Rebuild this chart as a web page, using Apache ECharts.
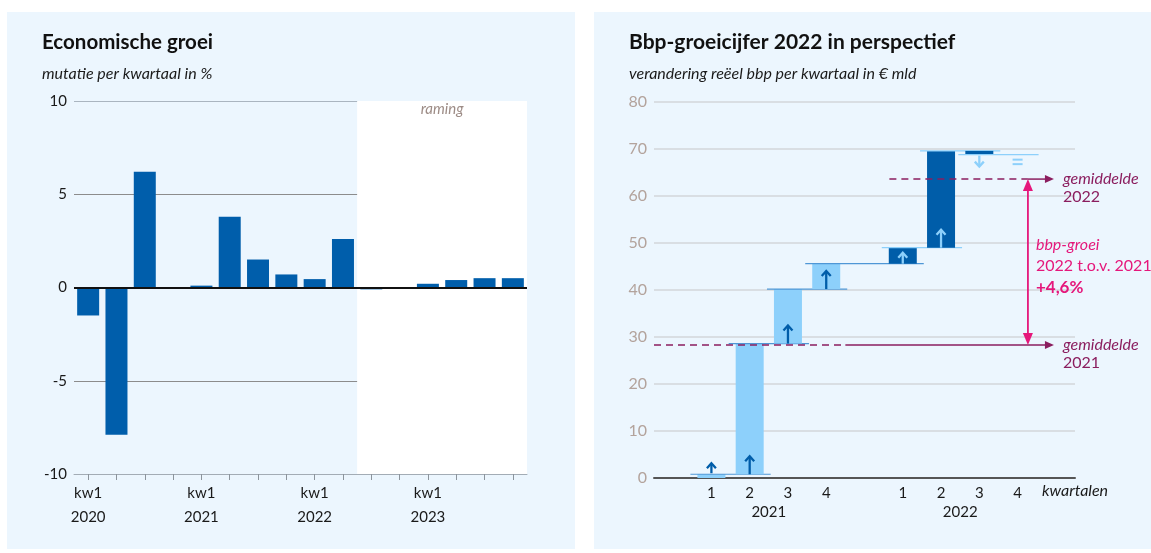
<!DOCTYPE html>
<html>
<head>
<meta charset="utf-8">
<script src="https://cdn.jsdelivr.net/npm/echarts@6/dist/echarts.min.js"></script>
<style>
html, body { margin: 0; padding: 0; background: #fff; }
#chartBox { width: 1151px; height: 553px; }
</style>
</head>
<body>
<div id="chartBox"></div>
<script>
// links: economische groei, mutatie per kwartaal in %
const groeiKwartalen = [
  '2020 kw1', '2020 kw2', '2020 kw3', '2020 kw4',
  '2021 kw1', '2021 kw2', '2021 kw3', '2021 kw4',
  '2022 kw1', '2022 kw2', '2022 kw3', '2022 kw4',
  '2023 kw1', '2023 kw2', '2023 kw3', '2023 kw4'
]
const groeiWaarden = [-1.5, -7.9, 6.2, 0, 0.1, 3.8, 1.5, 0.7, 0.45, 2.6, -0.1, 0, 0.2, 0.4, 0.5, 0.5]
const ramingVanaf = 10 // eerste kwartaal van de raming (2022 kw3)

// rechts: bbp-niveau per kwartaal (€ mld), waterval
const kwartaalLabels = ['', '1', '2', '3', '4', '', '1', '2', '3', '4', '']
const jaarLabels = ['2021', '2022']
const bbpNiveau2021 = [0.8, 28.6, 40.2, 45.6]
const bbpNiveau2022 = [49.0, 69.6, 68.8, 68.8]
const gemiddelden = [28.3, 63.6]
const bbpGroei = '+4,6%'

const LICHTBLAUW = '#8dd0fb'
const DONKERBLAUW = '#005da9'
const MIDDENBLAUW = '#4f97d6'
const PAARS = '#8b1e5f'
const ROZE = '#e5177b'
const FONT = 'Lato'

// waterval-stappen opbouwen: [slot, van, naar, jaar, volgende slot]
const slots = kwartaalLabels.map((l, i) => (l ? i : -1)).filter(i => i >= 0)
const niveaus = bbpNiveau2021.concat(bbpNiveau2022)
const stappen = []
let vorige = 0
niveaus.forEach((n, i) => {
  stappen.push([slots[i], vorige, n, i < bbpNiveau2021.length ? 0 : 1, i + 1 < slots.length ? slots[i + 1] : -1])
  vorige = n
})

function pijl(x, y0, y1, kleur) {
  const s = y1 < y0 ? 1 : -1
  return {
    type: 'group',
    children: [
      { type: 'line', shape: { x1: x, y1: y0, x2: x, y2: y1 + s * 0.5 }, style: { stroke: kleur, lineWidth: 2.3 } },
      {
        type: 'polyline',
        shape: { points: [[x - 4.5, y1 + s * 5], [x, y1], [x + 4.5, y1 + s * 5]] },
        style: { stroke: kleur, lineWidth: 2.3, fill: null }
      }
    ]
  }
}

function tekenStap(params, api) {
  const slot = api.value(0)
  const van = api.value(1)
  const naar = api.value(2)
  const jaar = api.value(3)
  const volgende = api.value(4)
  const breedte = 28
  const pVan = api.coord([slot + 0.5, van])
  const pNaar = api.coord([slot + 0.5, naar])
  const x = pVan[0]
  const links = x - breedte / 2
  const boven = Math.min(pVan[1], pNaar[1])
  const hoogte = Math.abs(pVan[1] - pNaar[1])
  const balkKleur = jaar === 0 ? LICHTBLAUW : DONKERBLAUW
  const pijlKleur = jaar === 0 ? DONKERBLAUW : LICHTBLAUW
  const lijnKleur = jaar === 0 ? MIDDENBLAUW : LICHTBLAUW
  const kids = []
  if (hoogte > 0.5) {
    kids.push({ type: 'rect', shape: { x: links, y: boven, width: breedte, height: hoogte }, style: { fill: balkKleur } })
  }
  if (volgende >= 0) {
    const xEind = api.coord([volgende + 0.5, naar])[0] + breedte / 2 + 7
    kids.push({
      type: 'line',
      shape: { x1: links - 7, y1: pNaar[1], x2: xEind, y2: pNaar[1] },
      style: { stroke: lijnKleur, lineWidth: 1.2 }
    })
  }
  if (naar > van) {
    if (hoogte >= 12) {
      kids.push(pijl(x, pVan[1], pVan[1] - Math.min(18, hoogte - 5), pijlKleur))
    } else {
      kids.push(pijl(x, boven - 1, boven - 11, pijlKleur))
    }
  } else if (naar < van) {
    if (hoogte >= 12) {
      kids.push(pijl(x, pVan[1], pVan[1] + Math.min(18, hoogte - 5), pijlKleur))
    } else {
      kids.push(pijl(x, pNaar[1] + 1, pNaar[1] + 12, pijlKleur))
    }
  } else {
    kids.push({ type: 'line', shape: { x1: x - 5, y1: pNaar[1] + 5, x2: x + 5, y2: pNaar[1] + 5 }, style: { stroke: pijlKleur, lineWidth: 2 } })
    kids.push({ type: 'line', shape: { x1: x - 5, y1: pNaar[1] + 9.5, x2: x + 5, y2: pNaar[1] + 9.5 }, style: { stroke: pijlKleur, lineWidth: 2 } })
  }
  return { type: 'group', children: kids }
}

// gemiddelde-lijnen: gestreept deel, doorgetrokken deel met pijlpunt
const gemStreep = [[0, 5.0], [6.15, 9.77]]
const gemPunt = 10.45

function tekenGemiddelde(params, api) {
  const niveau = api.value(0)
  const j = api.value(1)
  const a = api.coord([gemStreep[j][0], niveau])
  const b = api.coord([gemStreep[j][1], niveau])
  const c = api.coord([gemPunt, niveau])
  return {
    type: 'group',
    children: [
      { type: 'line', shape: { x1: a[0], y1: a[1], x2: b[0], y2: b[1] }, style: { stroke: PAARS, lineWidth: 1.5, lineDash: [7, 5] } },
      { type: 'line', shape: { x1: b[0], y1: b[1], x2: c[0] - 6, y2: c[1] }, style: { stroke: PAARS, lineWidth: 1.5 } },
      { type: 'polygon', shape: { points: [[c[0], c[1]], [c[0] - 9, c[1] - 4], [c[0] - 9, c[1] + 4]] }, style: { fill: PAARS } },
      {
        type: 'text',
        style: {
          text: '{i|gemiddelde}\n{n|' + jaarLabels[j] + '}',
          x: c[0] + 9, y: c[1] - 9,
          verticalAlign: 'top', align: 'left',
          rich: {
            i: { fontSize: 16, fontStyle: 'italic', fontFamily: FONT, fill: PAARS, lineHeight: 18 },
            n: { fontSize: 16, fontFamily: FONT, fill: PAARS, lineHeight: 18 }
          }
        }
      }
    ]
  }
}

function tekenVerschil(params, api) {
  const boven = api.coord([gemStreep[1][1], api.value(1)])
  const onder = api.coord([gemStreep[1][1], api.value(0)])
  const x = boven[0]
  const tx = x + 8
  const tekst = (t, dy, extra) => ({
    type: 'text',
    style: Object.assign({
      text: t, x: tx, y: boven[1] + dy, verticalAlign: 'middle', align: 'left',
      fontSize: 16, fontFamily: FONT, fill: ROZE
    }, extra)
  })
  return {
    type: 'group',
    children: [
      { type: 'line', shape: { x1: x, y1: boven[1] + 8, x2: x, y2: onder[1] - 8 }, style: { stroke: ROZE, lineWidth: 1.8 } },
      { type: 'polygon', shape: { points: [[x, boven[1]], [x - 5, boven[1] + 12], [x + 5, boven[1] + 12]] }, style: { fill: ROZE } },
      { type: 'polygon', shape: { points: [[x, onder[1]], [x - 5, onder[1] - 12], [x + 5, onder[1] - 12]] }, style: { fill: ROZE } },
      tekst('bbp-groei', 66, { fontStyle: 'italic' }),
      tekst(jaarLabels[1] + ' t.o.v. ' + jaarLabels[0], 87, {}),
      tekst(bbpGroei, 108, { fontWeight: 'bold', fontSize: 17 })
    ]
  }
}

let myChart = echarts.init(document.getElementById('chartBox'))
myChart.setOption({
  animation: false,
  textStyle: { fontFamily: FONT },
  graphic: [
    { type: 'rect', z: -100, shape: { x: 7, y: 12, width: 568, height: 537 }, style: { fill: '#ecf6fe' } },
    { type: 'rect', z: -100, shape: { x: 594, y: 12, width: 560, height: 537 }, style: { fill: '#ecf6fe' } },
    {
      type: 'text', left: 1042, top: 483,
      style: { text: 'kwartalen', fontSize: 16, fontStyle: 'italic', fontFamily: FONT, fill: '#1a1a1a' }
    }
  ],
  title: [
    { text: 'Economische groei', left: 42, top: 32, padding: 0, textStyle: { fontSize: 20.5, fontWeight: 'bold', color: '#111', fontFamily: FONT } },
    { text: 'mutatie per kwartaal in %', left: 42, top: 66, padding: 0, textStyle: { fontSize: 16, fontWeight: 'normal', fontStyle: 'italic', color: '#1a1a1a', fontFamily: FONT } },
    { text: 'Bbp-groeicijfer 2022 in perspectief', left: 629, top: 32, padding: 0, textStyle: { fontSize: 21, fontWeight: 'bold', color: '#111', fontFamily: FONT } },
    { text: 'verandering reëel bbp per kwartaal in € mld', left: 629, top: 66, padding: 0, textStyle: { fontSize: 16, fontWeight: 'normal', fontStyle: 'italic', color: '#1a1a1a', fontFamily: FONT } }
  ],
  grid: [
    { left: 74, top: 101, width: 453, height: 373 },
    { left: 654, top: 102, width: 421, height: 376 }
  ],
  xAxis: [
    {
      gridIndex: 0,
      type: 'category',
      data: groeiKwartalen,
      position: 'bottom',
      axisLine: { onZero: false, lineStyle: { color: '#a3acb5', width: 1 } },
      axisTick: { show: true, alignWithLabel: true, interval: 0, length: 6, lineStyle: { color: '#8c949c', width: 1 } },
      axisLabel: {
        interval: 0,
        margin: 7,
        color: '#1a1a1a',
        fontSize: 15,
        lineHeight: 24,
        fontFamily: FONT,
        formatter: (v, i) => (i % 4 === 0 ? 'kw1\n' + v.slice(0, 4) : '')
      }
    },
    { gridIndex: 0, type: 'value', min: 0, max: groeiKwartalen.length, show: false },
    {
      gridIndex: 1,
      type: 'category',
      data: kwartaalLabels,
      position: 'bottom',
      axisLine: { onZero: false, lineStyle: { color: '#555', width: 2 } },
      axisTick: { alignWithLabel: true, interval: (i, v) => v !== '', length: 5, lineStyle: { color: '#555' } },
      axisLabel: { interval: 0, margin: 8, color: '#1a1a1a', fontSize: 15, fontFamily: FONT }
    },
    {
      gridIndex: 1,
      type: 'value',
      min: 0,
      max: kwartaalLabels.length,
      interval: 1,
      position: 'bottom',
      axisLine: { show: false },
      axisTick: { show: false },
      splitLine: { show: false },
      axisLabel: {
        margin: 27,
        color: '#1a1a1a',
        fontSize: 15,
        fontFamily: FONT,
        formatter: v => (v === 3 ? jaarLabels[0] : v === 8 ? jaarLabels[1] : '')
      }
    }
  ],
  yAxis: [
    {
      gridIndex: 0,
      type: 'value',
      min: -10,
      max: 10,
      interval: 5,
      axisLine: { show: false },
      axisTick: { show: false },
      axisLabel: { margin: 7, color: '#1a1a1a', fontSize: 15, fontFamily: FONT },
      splitLine: { lineStyle: { color: ['#a3acb5', '#8c8c8c', '#8c8c8c', '#8c8c8c', '#aab5c0'] } }
    },
    {
      gridIndex: 1,
      type: 'value',
      min: 0,
      max: 80,
      interval: 10,
      axisLine: { show: false },
      axisTick: { show: false },
      axisLabel: { margin: 7, color: '#b3a39c', fontSize: 16, fontFamily: FONT },
      splitLine: { lineStyle: { color: '#d3d6da', width: 1.5 } }
    }
  ],
  series: [
    {
      name: 'raming',
      type: 'line',
      xAxisIndex: 1,
      yAxisIndex: 0,
      data: [],
      z: -1,
      silent: true,
      markArea: {
        silent: true,
        itemStyle: { color: '#ffffff' },
        label: {
          show: true,
          position: 'insideTop',
          distance: 1,
          formatter: 'raming',
          color: '#9d8c86',
          fontStyle: 'italic',
          fontSize: 15,
          fontFamily: FONT
        },
        data: [[{ xAxis: ramingVanaf }, { xAxis: groeiKwartalen.length }]]
      }
    },
    {
      name: 'groei',
      type: 'bar',
      xAxisIndex: 0,
      yAxisIndex: 0,
      data: groeiWaarden,
      barWidth: 22,
      itemStyle: { color: '#005eab' },
      markLine: {
        silent: true,
        symbol: 'none',
        label: { show: false },
        lineStyle: { color: '#111', width: 2, type: 'solid' },
        data: [{ yAxis: 0 }]
      }
    },
    {
      name: 'bbp',
      type: 'custom',
      xAxisIndex: 3,
      yAxisIndex: 1,
      renderItem: tekenStap,
      encode: { x: 0, y: [1, 2] },
      data: stappen
    },
    {
      name: 'gemiddelde',
      type: 'custom',
      xAxisIndex: 3,
      yAxisIndex: 1,
      renderItem: tekenGemiddelde,
      encode: { y: 0 },
      data: gemiddelden.map((g, j) => [g, j])
    },
    {
      name: 'verschil',
      type: 'custom',
      xAxisIndex: 3,
      yAxisIndex: 1,
      renderItem: tekenVerschil,
      encode: { y: [0, 1] },
      data: [[gemiddelden[0], gemiddelden[1]]]
    }
  ]
})
</script>
</body>
</html>
